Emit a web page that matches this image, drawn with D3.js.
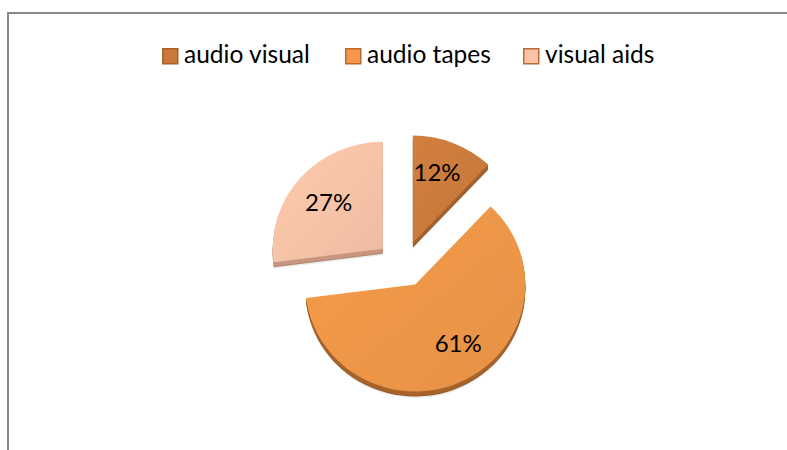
<!DOCTYPE html>
<html>
<head>
<meta charset="utf-8">
<script src="https://cdn.jsdelivr.net/npm/d3@7"></script>
<style>
  html, body { margin: 0; padding: 0; background: #fff; }
  svg { display: block; }
  text { font-family: Lato, "Open Sans", sans-serif; fill: #000; }
</style>
</head>
<body>
<svg id="chart" width="787" height="450"></svg>
<script>
// Share of teaching aids used
const categories = ["audio visual", "audio tapes", "visual aids"];
const shares = [12, 61, 27];

// Palette: top face, side wall, legend swatch border
const topColors  = ["#C97A3C", "#EC9547", "#F4C2A6"];
const sideColors = ["#A4612C", "#A8632A", "#C8977F"];
const swatchFill = ["#C8793B", "#F79646", "#FAC3A6"];
const swatchEdge = ["#A9612A", "#B9692B", "#B96B32"];

// Small per-slice label adjustments (px) relative to the computed anchor
const labelNudge = [[-1, -6], [12, 2], [-3, 0]];

const W = 787, H = 450;
const svg = d3.select("#chart");

// Chart-area frame
svg.append("rect")
  .attr("x", 8).attr("y", 13)
  .attr("width", W + 20).attr("height", H + 20)
  .attr("fill", "none")
  .attr("stroke", "#888")
  .attr("stroke-width", 2);

// Legend
const legend = svg.append("g");
const legendX = [162, 345, 523];
categories.forEach((c, i) => {
  const g = legend.append("g").attr("transform", `translate(${legendX[i]},48)`);
  g.append("rect")
    .attr("x", 0.75).attr("y", 0.75)
    .attr("width", 15).attr("height", 15)
    .attr("fill", swatchFill[i])
    .attr("stroke", swatchEdge[i])
    .attr("stroke-width", 1.5);
  g.append("text")
    .attr("x", 22).attr("y", 15)
    .attr("font-size", 24.5)
    .text(c);
});

// Tilted, exploded pie
const cx = 403, cy = 264;
const rx = 110, ry = 107;
const explodeX = 27, explodeY = 23;
const depth = 5;

const pie = d3.pie().sort(null).value(d => d)
  .startAngle(0).endAngle(2 * Math.PI);
const arcs = pie(shares);
const arc = d3.arc().innerRadius(0).outerRadius(rx);

const defs = svg.append("defs");
arcs.forEach((a, i) => {
  const grad = defs.append("linearGradient")
    .attr("id", "g" + i)
    .attr("x1", "0").attr("y1", "0").attr("x2", "1").attr("y2", "1");
  const base = d3.color(topColors[i]);
  grad.append("stop").attr("offset", "0").attr("stop-color", base.brighter(0.12));
  grad.append("stop").attr("offset", "1").attr("stop-color", base.darker(0.08));
});

const pieG = svg.append("g");
const yScale = ry / rx;

arcs.forEach((a, i) => {
  const mid = (a.startAngle + a.endAngle) / 2;
  const ox = cx + explodeX * Math.sin(mid);
  const oy = cy - explodeY * Math.cos(mid);
  const slice = pieG.append("g");

  // soft shadow under the base
  slice.append("path")
    .attr("d", arc(a))
    .attr("transform", `translate(${ox},${oy + depth + 1.5}) scale(1,${yScale})`)
    .attr("fill", "#000").attr("opacity", 0.08);

  // side wall: stacked copies of the face shifted downward
  for (let k = depth; k >= 1; k--) {
    const c = d3.color(sideColors[i]);
    slice.append("path")
      .attr("d", arc(a))
      .attr("transform", `translate(${ox},${oy + k}) scale(1,${yScale})`)
      .attr("fill", k === depth ? c.darker(0.35) : c);
  }

  // top face
  slice.append("path")
    .attr("d", arc(a))
    .attr("transform", `translate(${ox},${oy}) scale(1,${yScale})`)
    .attr("fill", `url(#g${i})`);

  // percentage label
  const lr = 0.62;
  const lx = ox + rx * lr * Math.sin(mid) + labelNudge[i][0];
  const ly = oy - ry * lr * Math.cos(mid) + labelNudge[i][1];
  slice.append("text")
    .attr("x", lx).attr("y", ly)
    .attr("text-anchor", "middle")
    .attr("dominant-baseline", "middle")
    .attr("font-size", 24)
    .text(a.data + "%");
});
</script>
</body>
</html>
